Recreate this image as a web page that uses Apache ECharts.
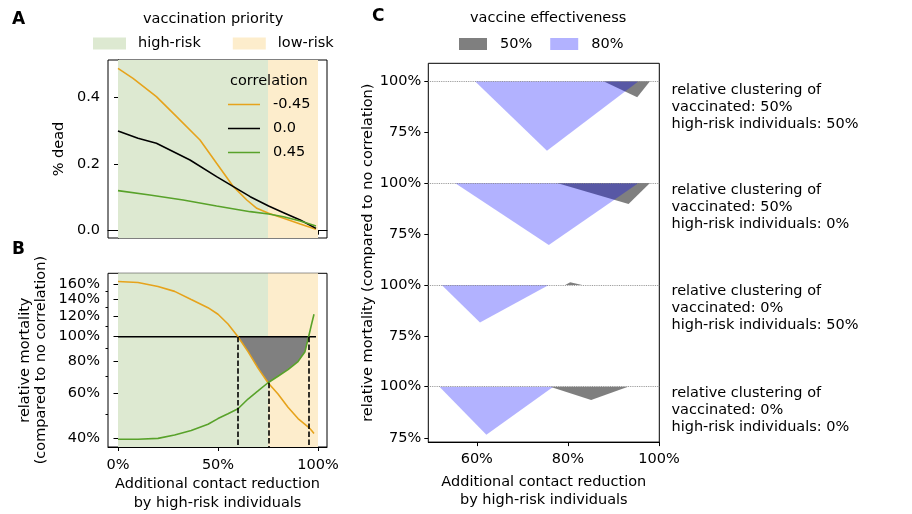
<!DOCTYPE html>
<html><head><meta charset="utf-8">
<script src="https://cdn.jsdelivr.net/npm/echarts@6/dist/echarts.min.js"></script>
<style>html,body{margin:0;padding:0;background:#fff}#c{width:912px;height:514px}</style>
</head><body><div id="c"></div>
<script>
// ---------- Panel A: % dead ----------
const aXNeg = [0, 0.075, 0.192, 0.293, 0.41, 0.493, 0.577, 0.644, 0.694, 0.753, 0.828, 0.911, 0.99];
const aNeg  = [0.487, 0.457, 0.402, 0.342, 0.272, 0.202, 0.132, 0.092, 0.067, 0.052, 0.037, 0.020, 0.004];
const aXZero = [0, 0.1, 0.192, 0.36, 0.493, 0.577, 0.661, 0.753, 0.828, 0.911, 0.99];
const aZero  = [0.299, 0.277, 0.262, 0.212, 0.162, 0.132, 0.102, 0.074, 0.054, 0.032, 0.007];
const aXPos = [0, 0.159, 0.326, 0.493, 0.661, 0.753, 0.828, 0.911, 0.99];
const aPos  = [0.120, 0.107, 0.092, 0.074, 0.057, 0.050, 0.042, 0.029, 0.014];
const aYTicks = [0, 0.2, 0.4];
const abXTicks = [0, 0.5, 1.0];

// vaccination priority bands
const priNames = ['high-risk', 'low-risk'];
const priX = [0, 0.75, 1.0];

// ---------- Panel B: relative mortality ----------
const bX   = [0, 0.1, 0.2, 0.283, 0.366, 0.45, 0.5, 0.55, 0.6, 0.65, 0.7, 0.75, 0.8, 0.85, 0.9, 0.935, 0.953, 0.968, 0.98];
const bNeg = [1.642, 1.627, 1.571, 1.503, 1.397, 1.298, 1.224, 1.121, 1.0, 0.874, 0.754, 0.661, 0.597, 0.530, 0.479, 0.455, 0.443, 0.430, 0.419];
const bPos = [0.398, 0.398, 0.401, 0.413, 0.430, 0.455, 0.479, 0.500, 0.523, 0.571, 0.614, 0.661, 0.701, 0.744, 0.800, 0.874, 1.0, 1.121, 1.224];
const bRefX = [0, 0.99];
const bRef = [1.0, 1.0];
const crossX = [0.598, 0.752, 0.953];
const crossY = [1.0, 0.661, 1.0];
const bYMin = 0.371, bYMax = 1.768;
const bYLabels = [0.4, 0.6, 0.8, 1.0, 1.2, 1.4, 1.6];
const bYMinor = [0.5, 0.7, 0.9, 1.1, 1.3, 1.5];

// ---------- Panel C: relative mortality by vaccine effectiveness ----------
const c50 = [
  [[0.878, 1.0], [0.952, 0.922], [0.980, 1.0]],
  [[0.776, 1.0], [0.933, 0.898], [0.980, 1.0]],
  [[0.794, 1.0], [0.805, 1.013], [0.831, 1.0]],
  [[0.761, 1.0], [0.851, 0.935], [0.932, 1.0]]
];
const c80 = [
  [[0.596, 1.0], [0.754, 0.662], [0.955, 1.0]],
  [[0.552, 1.0], [0.758, 0.698], [0.955, 1.0]],
  [[0.523, 1.0], [0.607, 0.817], [0.758, 1.0]],
  [[0.518, 1.0], [0.621, 0.766], [0.768, 1.0]]
];
const cXTicks = [0.6, 0.8, 1.0];
const cYTicks = [0.75, 1.0];
const cLabels = [
  'relative clustering of\nvaccinated: 50%\nhigh-risk individuals: 50%',
  'relative clustering of\nvaccinated: 50%\nhigh-risk individuals: 0%',
  'relative clustering of\nvaccinated: 0%\nhigh-risk individuals: 50%',
  'relative clustering of\nvaccinated: 0%\nhigh-risk individuals: 0%'
];
const effNames = ['50%', '80%'];

// ---------- styles ----------
const FONT = 'DejaVu Sans';
const FS = 14.5;
const txt = {color: '#000', fontFamily: FONT, fontSize: FS};
const C_ORANGE = '#e6a31c', C_GREEN = '#58a22a', C_BLACK = '#000';
const BG_GREEN = '#dde9d1', BG_ORANGE = '#fdedcc';
const C_GRAY = 'rgba(0,0,0,0.5)', C_BLUE = 'rgba(0,0,255,0.3)';
const pct = v => Math.round(v * 100) + '%';
const zip = (xs, ys) => xs.map((x, i) => [x, ys[i]]);
const axLine = {show: true, lineStyle: {color: '#000', width: 1}};
const LINE_ICON = 'path://M0,0L32,0L32,0.01L0,0.01Z M0,6.2L32,6.2L32,7.8L0,7.8Z M0,13.99L32,13.99L32,14L0,14Z';

const grids = [
  {left: 108, top: 60, width: 219, height: 178, show: true, borderColor: '#000', borderWidth: 1},
  {left: 108, top: 273.3, width: 219, height: 177.4, show: true, borderColor: '#000', borderWidth: 1},
  {left: 428.3, top: 63.3, width: 231, height: 387.7, show: true, borderColor: '#000', borderWidth: 1},
  {left: 428.3, top: 63.3, width: 231, height: 101.8},
  {left: 428.3, top: 165.1, width: 231, height: 101.8},
  {left: 428.3, top: 266.9, width: 231, height: 101.8},
  {left: 428.3, top: 368.7, width: 231, height: 82.3}
];
const cYMin = [0.5916, 0.5916, 0.5916, 0.6867];
const cYMax = 1.0877;

const xAxes = [
  {type: 'value', gridIndex: 0, min: -0.05, max: 1.045, splitLine: {show: false}, axisLine: axLine,
   axisTick: {show: true, customValues: abXTicks, length: 4, lineStyle: {color: '#000'}}, axisLabel: {show: false}},
  {type: 'value', gridIndex: 1, min: -0.05, max: 1.045, splitLine: {show: false}, axisLine: axLine,
   axisTick: {show: true, customValues: abXTicks, length: 4, lineStyle: {color: '#000'}},
   axisLabel: Object.assign({customValues: abXTicks, formatter: pct, margin: 10, lineHeight: 17}, txt),
   name: 'Additional contact reduction\nby high-risk individuals', nameLocation: 'middle', nameGap: 28,
   nameTextStyle: Object.assign({lineHeight: 19}, txt)},
  {type: 'value', gridIndex: 2, min: 0.4936, max: 1.0005, splitLine: {show: false}, axisLine: axLine,
   axisTick: {show: true, customValues: cXTicks, length: 4, lineStyle: {color: '#000'}},
   axisLabel: Object.assign({customValues: cXTicks, formatter: pct, margin: 9, lineHeight: 17}, txt),
   name: 'Additional contact reduction\nby high-risk individuals', nameLocation: 'middle', nameGap: 27,
   nameTextStyle: Object.assign({lineHeight: 18}, txt)}
];
for (let i = 0; i < 4; i++) {
  xAxes.push({type: 'value', gridIndex: 3 + i, min: 0.4936, max: 1.0005, show: false});
}

const yAxes = [
  {type: 'value', gridIndex: 0, min: -0.022, max: 0.512, splitLine: {show: false}, axisLine: axLine,
   axisTick: {show: true, customValues: aYTicks, length: 4, lineStyle: {color: '#000'}},
   axisLabel: Object.assign({customValues: aYTicks, formatter: v => v.toFixed(1), margin: 8}, txt),
   name: '% dead', nameLocation: 'middle', nameGap: 40, nameTextStyle: Object.assign({lineHeight: 17}, txt)},
  {type: 'log', logBase: 10, gridIndex: 1, position: 'left', min: bYMin, max: bYMax, splitLine: {show: false}, axisLine: axLine,
   axisTick: {show: true, customValues: bYLabels, length: 4.5, lineStyle: {color: '#000'}},
   axisLabel: Object.assign({customValues: bYLabels, formatter: pct, margin: 8}, txt),
   name: 'relative mortality\n(compared to no correlation)', nameLocation: 'middle', nameGap: 59,
   nameTextStyle: Object.assign({lineHeight: 16}, txt)},
  {type: 'log', logBase: 10, gridIndex: 1, position: 'left', min: bYMin, max: bYMax, splitLine: {show: false}, axisLine: {show: false},
   axisTick: {show: true, customValues: bYMinor, length: 2.5, lineStyle: {color: '#000'}}, axisLabel: {show: false}},
  {type: 'value', gridIndex: 2, position: 'left', min: 0, max: 1, splitLine: {show: false}, axisLine: {show: false},
   axisTick: {show: false}, axisLabel: {show: false},
   name: 'relative mortality (compared to no correlation)', nameLocation: 'middle', nameGap: 52,
   nameTextStyle: Object.assign({lineHeight: 17}, txt)}
];
for (let i = 0; i < 4; i++) {
  yAxes.push({type: 'value', gridIndex: 3 + i, position: 'left', min: cYMin[i], max: cYMax, splitLine: {show: false},
    axisLine: {show: false},
    axisTick: {show: true, customValues: cYTicks, length: 4, lineStyle: {color: '#000'}},
    axisLabel: Object.assign({customValues: cYTicks, formatter: pct, margin: 7}, txt)});
}

const series = [];
// priority bands in A and B
[0, 1].forEach(g => {
  priNames.forEach((nm, k) => {
    const col = k === 0 ? BG_GREEN : BG_ORANGE;
    series.push({type: 'line', name: nm, xAxisIndex: g, yAxisIndex: g, data: [], color: col, symbol: 'none',
      markArea: {silent: true, itemStyle: {color: col}, data: [[{xAxis: priX[k]}, {xAxis: priX[k + 1]}]]}});
  });
});
const lineS = (name, g, data, color, z) => ({type: 'line', name, xAxisIndex: g, yAxisIndex: g, data, color,
  symbol: 'none', lineStyle: {width: 1.6, color}, z: z || 3});
series.push(lineS('-0.45', 0, zip(aXNeg, aNeg), C_ORANGE));
series.push(lineS('0.0', 0, zip(aXZero, aZero), C_BLACK));
series.push(lineS('0.45', 0, zip(aXPos, aPos), C_GREEN));

// B fill between 100% and the upper of the two curves where both are below 100%
const fillB = bX.map((x, i) => [x, Math.max(bNeg[i], bPos[i])]).filter(p => p[0] >= crossX[0] && p[0] <= crossX[2] && p[1] <= 1.0);
series.push({type: 'line', name: 'gap', xAxisIndex: 1, yAxisIndex: 1, data: fillB, symbol: 'none',
  lineStyle: {width: 0}, areaStyle: {color: '#808080', opacity: 1, origin: 1}, z: 2});
const refS = lineS('0.0', 1, zip(bRefX, bRef), C_BLACK);
refS.markLine = {silent: true, symbol: 'none', animation: false, label: {show: false},
  lineStyle: {type: [5.5, 2.4], color: '#000', width: 1.6},
  data: crossX.map((x, i) => [{coord: [x, crossY[i]]}, {coord: [x, bYMin]}])};
series.push(refS);
series.push(lineS('-0.45', 1, zip(bX, bNeg), C_ORANGE, 4));
series.push(lineS('0.45', 1, zip(bX, bPos), C_GREEN, 4));

// C
for (let i = 0; i < 4; i++) {
  series.push({type: 'line', name: effNames[0], xAxisIndex: 3 + i, yAxisIndex: 4 + i, data: c50[i], symbol: 'none',
    color: C_GRAY, lineStyle: {width: 0}, areaStyle: {color: C_GRAY, opacity: 1, origin: 1}});
  series.push({type: 'line', name: effNames[1], xAxisIndex: 3 + i, yAxisIndex: 4 + i, data: c80[i], symbol: 'none',
    color: C_BLUE, lineStyle: {width: 0}, areaStyle: {color: C_BLUE, opacity: 1, origin: 1},
    markLine: {silent: true, symbol: 'none', animation: false, label: {show: false},
      lineStyle: {type: 'dotted', color: '#888', width: 0.9}, data: [{yAxis: 1.0}]}});
}

const tStyle = Object.assign({fontWeight: 'normal', lineHeight: 17}, txt);
const bold = {fontFamily: FONT, fontSize: 17, fontWeight: 'bold', color: '#000', lineHeight: 20};
const titles = [
  {text: 'A', left: 12, top: 10, padding: 0, textStyle: bold},
  {text: 'B', left: 12, top: 240, padding: 0, textStyle: bold},
  {text: 'C', left: 372, top: 7, padding: 0, textStyle: bold},
  {text: 'vaccination priority', left: 143, top: 11, padding: 0, textStyle: tStyle},
  {text: 'correlation', left: 230, top: 73, padding: 0, textStyle: tStyle},
  {text: 'vaccine effectiveness', left: 470, top: 10, padding: 0, textStyle: tStyle}
];
const cLabelTops = [81.5, 181.5, 283, 385];
cLabels.forEach((t, i) => titles.push({text: t, left: 671.5, top: cLabelTops[i], padding: 0, textStyle: tStyle}));

const option = {
  animation: false,
  backgroundColor: '#fff',
  title: titles,
  grid: grids,
  xAxis: xAxes,
  yAxis: yAxes,
  legend: [
    {data: priNames, left: 93, top: 36, padding: 0, itemWidth: 33, itemHeight: 12, itemGap: 32, icon: 'rect',
     selectedMode: false, textStyle: Object.assign({padding: [0, 0, 0, 7]}, txt)},
    {data: ['-0.45', '0.0', '0.45'], orient: 'vertical', left: 228, top: 97, padding: 0, itemWidth: 32, itemHeight: 14,
     itemGap: 9, icon: LINE_ICON, selectedMode: false, textStyle: Object.assign({padding: [0, 0, 0, 8], lineHeight: 14}, txt)},
    {data: effNames, left: 459, top: 36.5, padding: 0, itemWidth: 28, itemHeight: 12, itemGap: 18, icon: 'rect',
     selectedMode: false, textStyle: Object.assign({padding: [0, 0, 0, 8]}, txt)}
  ],
  series
};
const chart = echarts.init(document.getElementById('c'), null, {renderer: 'canvas'});
chart.setOption(option);
</script>
</body></html>
